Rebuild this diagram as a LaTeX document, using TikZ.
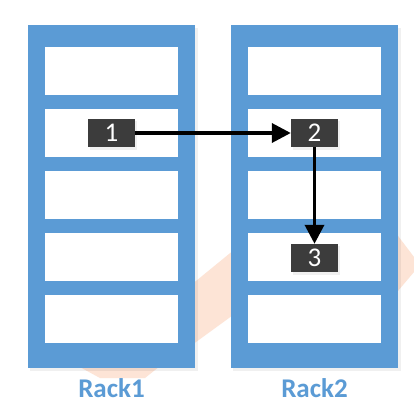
\documentclass[tikz,border=0pt]{standalone}
\usepackage{fontspec}
\setmainfont{Carlito}
\usetikzlibrary{arrows.meta}
\definecolor{rackblue}{HTML}{5B9BD5}
\definecolor{boxdark}{HTML}{3C3C3C}
\definecolor{wm}{HTML}{FDE4D6}
\begin{document}
\begin{tikzpicture}[x=1pt,y=-1pt,
  rackframe/.style={fill=rackblue, draw=none},
  slot/.style={fill=white, draw=none},
  softshadow/.style={fill=black, opacity=0.06, draw=none},
  numbox/.style={fill=boxdark, text=white, minimum width=47pt, minimum height=28pt, inner sep=0pt, font=\fontsize{27}{27}\selectfont},
  racklabel/.style={text=rackblue, inner sep=0pt, font=\bfseries\fontsize{27}{27}\selectfont},
  flow/.style={line width=3.6pt, -{Triangle[length=19pt,width=19pt]}}]
\useasboundingbox (0,0) rectangle (414,412);
\fill[white] (0,0) rectangle (414,412);
% faint watermark behind
\fill[wm] (185,290) -- (240,245) -- (240,310) -- (185,350) -- cycle;
\fill[wm] (392,228) -- (414,257) -- (414,272) -- (392,298) -- cycle;
\fill[wm] (78,366) -- (160,366) -- (145,378) -- (100,378) -- cycle;
% rack shadows
\fill[softshadow] (30,28) rectangle (198,371);
\fill[softshadow] (233,28) rectangle (401,371);
% racks
\fill[rackframe] (28,25) rectangle (195,368);
\fill[rackframe] (231,25) rectangle (398,368);
\foreach \t in {47,109,171,233,295} {
  \fill[slot] (45,\t) rectangle (178,\t+48);
  \fill[slot] (248,\t) rectangle (381,\t+48);
}
% box shadows
\fill[softshadow] (89.5,121) rectangle (136.5,149.5);
\fill[softshadow] (292.5,121) rectangle (339.5,149.5);
\fill[softshadow] (292.5,246) rectangle (339.5,274.5);
% numbered boxes
\node[numbox] (n1) at (111.5,133) {1};
\node[numbox] (n2) at (314.5,133) {2};
\node[numbox] (n3) at (314.5,258) {3};
% labels
\node[racklabel] (r1) at (111.5,388) {Rack1};
\node[racklabel] (r2) at (314.5,388) {Rack2};
% connectors
\draw[flow] (n1.east) -- (n2.west);
\draw[flow] (n2.south) -- (n3.north);
\end{tikzpicture}
\end{document}
